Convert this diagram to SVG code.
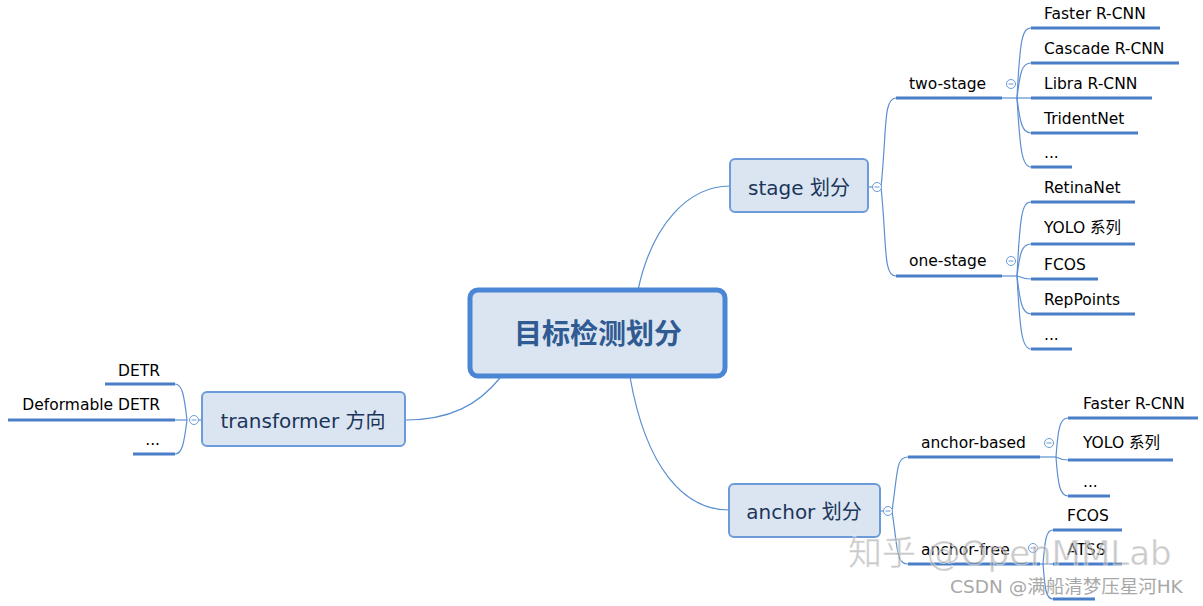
<svg xmlns="http://www.w3.org/2000/svg" width="1203" height="606" viewBox="0 0 1203 606">
<style>
.bg{fill:#ffffff}
.root{fill:#dbe5f1;stroke:#4a86d3;stroke-width:5}
.main{fill:#dbe5f1;stroke:#6b9bd8;stroke-width:2}
.rt{font-family:"DejaVu Sans","Noto Sans CJK SC",sans-serif;font-size:28px;font-weight:bold;fill:#2f5a92;text-anchor:middle}
.mt{font-family:"DejaVu Sans","Noto Sans CJK SC",sans-serif;font-size:20px;fill:#1c355a;text-anchor:middle}
.lt{font-family:"DejaVu Sans","Noto Sans CJK SC",sans-serif;font-size:15.5px;fill:#000}
.ul{stroke:#4a7fc8;stroke-width:3;fill:none}
.cn{stroke:#5b8fd0;stroke-width:1.2;fill:none}
.cc{fill:#fff;stroke:#6b9bd8;stroke-width:1}
.cm{stroke:#6b9bd8;stroke-width:1}
.wm{font-family:"DejaVu Sans","Noto Sans CJK SC",sans-serif;font-size:34px;fill:#9a9a9a;fill-opacity:0.55;stroke:#ffffff;stroke-opacity:0.5;stroke-width:1}
.wm2{font-family:"DejaVu Sans","Noto Sans CJK SC",sans-serif;font-size:18.5px;fill:#a8a8a8}
</style>
<rect class="bg" x="0" y="0" width="1203" height="606"/>

<g id="connectors">
  <path class="cn" d="M638,290 C652,225 688,186 730,186"/>
  <path class="cn" d="M630,377 C646,468 684,510 729,510"/>
  <path class="cn" d="M500,378 C478,405 450,420 405,420"/>
  <path class="cn" d="M881,187 C887,130 883,98 896,98"/>
  <path class="cn" d="M881,187 C887,245 883,276 896,276"/>
  <path class="cn" d="M1002,98 L1017,98"/>
  <path class="cn" d="M1017,98 C1020,40 1022,28 1031,28"/>
  <path class="cn" d="M1017,98 C1020,72 1022,63 1031,63"/>
  <path class="cn" d="M1017,98 L1031,98"/>
  <path class="cn" d="M1017,98 C1020,122 1022,133 1031,133"/>
  <path class="cn" d="M1017,98 C1020,150 1022,167 1031,167"/>
  <path class="cn" d="M1002,276 L1017,276"/>
  <path class="cn" d="M1017,276 C1020,215 1022,202 1031,202"/>
  <path class="cn" d="M1017,276 C1020,252 1022,244 1031,244"/>
  <path class="cn" d="M1017,276 C1022,278 1025,279 1031,279"/>
  <path class="cn" d="M1017,276 C1020,302 1022,314 1031,314"/>
  <path class="cn" d="M1017,276 C1020,332 1022,349 1031,349"/>
  <path class="cn" d="M892,511 C898,470 896,457 908,457"/>
  <path class="cn" d="M892,511 C898,550 896,564 908,564"/>
  <path class="cn" d="M1040,457 L1056,457"/>
  <path class="cn" d="M1056,457 C1058,428 1060,418 1068,418"/>
  <path class="cn" d="M1056,457 C1060,459 1063,460 1068,460"/>
  <path class="cn" d="M1056,457 C1058,485 1060,496 1068,496"/>
  <path class="cn" d="M1040,564 L1043,564"/>
  <path class="cn" d="M1043,564 C1045,540 1046,530 1053,530"/>
  <path class="cn" d="M1043,564 L1053,564"/>
  <path class="cn" d="M1043,564 C1045,590 1046,599 1053,599"/>
  <path class="cn" d="M202,420 L198,420"/>
  <path class="cn" d="M187,420 C184,394 182,384 175,384"/>
  <path class="cn" d="M187,420 L175,420"/>
  <path class="cn" d="M187,420 C184,444 182,454 175,454"/>
  <path class="cn" d="M868,187 L873,187"/>
  <path class="cn" d="M880,511 L884,511"/>
</g>

<g id="root">
  <rect class="root" x="470" y="290" width="255" height="86" rx="8"/>
  <text class="rt" x="598" y="344">目标检测划分</text>
</g>

<g id="stage">
  <rect class="main" x="730" y="159" width="138" height="53" rx="5"/>
  <text class="mt" x="799" y="195">stage 划分</text>
  <circle class="cc" cx="877" cy="187" r="4.5"/><line class="cm" x1="874.5" y1="187" x2="879.5" y2="187"/>
</g>

<g id="two-stage">
  <text class="lt" x="909" y="89">two-stage</text>
  <line class="ul" x1="896" y1="98" x2="1002" y2="98"/>
  <circle class="cc" cx="1011" cy="84" r="4.5"/><line class="cm" x1="1008.5" y1="84" x2="1013.5" y2="84"/>
</g>
<g id="faster-rcnn-1"><text class="lt" x="1044" y="19">Faster R-CNN</text><line class="ul" x1="1031" y1="28" x2="1160" y2="28"/></g>
<g id="cascade-rcnn"><text class="lt" x="1044" y="54">Cascade R-CNN</text><line class="ul" x1="1031" y1="63" x2="1179" y2="63"/></g>
<g id="libra-rcnn"><text class="lt" x="1044" y="89">Libra R-CNN</text><line class="ul" x1="1031" y1="98" x2="1152" y2="98"/></g>
<g id="tridentnet"><text class="lt" x="1044" y="124">TridentNet</text><line class="ul" x1="1031" y1="133" x2="1138" y2="133"/></g>
<g id="ts-more"><text class="lt" x="1044" y="158">...</text><line class="ul" x1="1031" y1="167" x2="1072" y2="167"/></g>

<g id="one-stage">
  <text class="lt" x="909" y="266">one-stage</text>
  <line class="ul" x1="896" y1="276" x2="1002" y2="276"/>
  <circle class="cc" cx="1011" cy="261" r="4.5"/><line class="cm" x1="1008.5" y1="261" x2="1013.5" y2="261"/>
</g>
<g id="retinanet"><text class="lt" x="1044" y="193">RetinaNet</text><line class="ul" x1="1031" y1="202" x2="1135" y2="202"/></g>
<g id="yolo-1"><text class="lt" x="1044" y="233">YOLO 系列</text><line class="ul" x1="1031" y1="244" x2="1135" y2="244"/></g>
<g id="fcos-1"><text class="lt" x="1044" y="270">FCOS</text><line class="ul" x1="1031" y1="279" x2="1098" y2="279"/></g>
<g id="reppoints"><text class="lt" x="1044" y="305">RepPoints</text><line class="ul" x1="1031" y1="314" x2="1135" y2="314"/></g>
<g id="os-more"><text class="lt" x="1044" y="340">...</text><line class="ul" x1="1031" y1="349" x2="1072" y2="349"/></g>

<g id="anchor">
  <rect class="main" x="729" y="484" width="151" height="53" rx="5"/>
  <text class="mt" x="804" y="519">anchor 划分</text>
  <circle class="cc" cx="888" cy="511" r="4.5"/><line class="cm" x1="885.5" y1="511" x2="890.5" y2="511"/>
</g>

<g id="anchor-based">
  <text class="lt" x="921" y="448">anchor-based</text>
  <line class="ul" x1="908" y1="457" x2="1040" y2="457"/>
  <circle class="cc" cx="1049" cy="443" r="4.5"/><line class="cm" x1="1046.5" y1="443" x2="1051.5" y2="443"/>
</g>
<g id="faster-rcnn-2"><text class="lt" x="1083" y="409">Faster R-CNN</text><line class="ul" x1="1068" y1="418" x2="1198" y2="418"/></g>
<g id="yolo-2"><text class="lt" x="1083" y="448">YOLO 系列</text><line class="ul" x1="1068" y1="460" x2="1173" y2="460"/></g>
<g id="ab-more"><text class="lt" x="1083" y="487">...</text><line class="ul" x1="1068" y1="496" x2="1110" y2="496"/></g>

<g id="anchor-free">
  <text class="lt" x="921" y="555">anchor-free</text>
  <line class="ul" x1="908" y1="564" x2="1040" y2="564"/>
  <circle class="cc" cx="1033" cy="548" r="4.5"/><line class="cm" x1="1030.5" y1="548" x2="1035.5" y2="548"/>
</g>
<g id="fcos-2"><text class="lt" x="1067" y="521">FCOS</text><line class="ul" x1="1053" y1="530" x2="1122" y2="530"/></g>
<g id="atss"><text class="lt" x="1067" y="555">ATSS</text><line class="ul" x1="1053" y1="564" x2="1122" y2="564"/></g>
<g id="af-more"><line class="ul" x1="1053" y1="599" x2="1095" y2="599"/></g>

<g id="transformer">
  <rect class="main" x="202" y="392" width="203" height="54" rx="5"/>
  <text class="mt" x="303" y="428">transformer 方向</text>
  <circle class="cc" cx="194" cy="420" r="4.5"/><line class="cm" x1="191.5" y1="420" x2="196.5" y2="420"/>
</g>
<g id="detr"><text class="lt" x="160" y="376" text-anchor="end">DETR</text><line class="ul" x1="105" y1="384" x2="175" y2="384"/></g>
<g id="deformable-detr"><text class="lt" x="160" y="410" text-anchor="end">Deformable DETR</text><line class="ul" x1="8" y1="420" x2="175" y2="420"/></g>
<g id="tr-more"><text class="lt" x="160" y="445" text-anchor="end">...</text><line class="ul" x1="133" y1="454" x2="175" y2="454"/></g>

<g id="watermark">
  <text class="wm" x="848" y="565">知乎 @OpenMMLab</text>
  <text class="wm2" x="950" y="593">CSDN @满船清梦压星河HK</text>
</g>
</svg>
